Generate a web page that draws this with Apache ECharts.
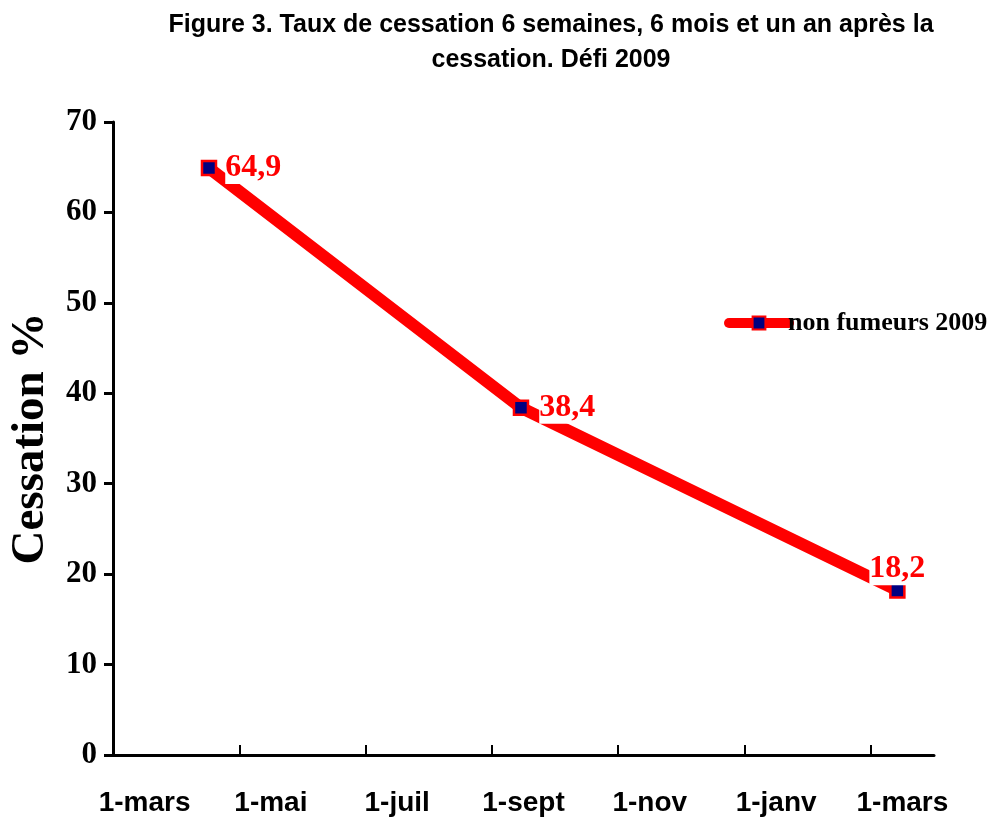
<!DOCTYPE html>
<html>
<head>
<meta charset="utf-8">
<script src="https://cdn.jsdelivr.net/npm/echarts@6/dist/echarts.min.js"></script>
<style>html,body{margin:0;padding:0;background:#fff;}#c{width:990px;height:822px;}</style>
</head>
<body>
<div id="c"></div>
<script>
// Data
const seriesName = 'non fumeurs 2009';
const monthsAfterStart = [1.52, 6.46, 12.42];   // position along time axis (months after 1 March 2009)
const cessationValues = [64.9, 38.4, 18.2];
const valueLabels = ['64,9', '38,4', '18,2'];
const tickLabels = ['1-mars', '1-mai', '1-juil', '1-sept', '1-nov', '1-janv', '1-mars'];
const yTicks = [0, 10, 20, 30, 40, 50, 60, 70];
const titleText = 'Figure 3. Taux de cessation 6 semaines, 6 mois et un an après la\ncessation. Défi 2009';
const yAxisName = 'Cessation %';

const labelPos = [
  {position: 'right', distance: 8},
  {position: 'right', distance: 10},
  {position: 'top', distance: -3}
];

const chart = echarts.init(document.getElementById('c'), null, {renderer: 'canvas'});
const data = monthsAfterStart.map((m, i) => ({
  value: [m, cessationValues[i]],
  label: Object.assign({formatter: valueLabels[i]}, labelPos[i])
}));

chart.setOption({
  animation: false,
  backgroundColor: '#fff',
  title: {
    text: titleText,
    left: 546, top: 3, textAlign: 'center',
    textStyle: {fontFamily: 'Liberation Sans', fontWeight: 'bold', fontSize: 25, lineHeight: 35, color: '#000'}
  },
  legend: {
    left: 719, top: 305,
    itemWidth: 60, itemHeight: 16, itemGap: 2,
    lineStyle: {width: 10, cap: 'round'},
    textStyle: {fontFamily: 'Liberation Serif', fontWeight: 'bold', fontSize: 26, color: '#000', padding: [0,0,0,-6]},
    data: [seriesName]
  },
  grid: {left: 113, right: 56, top: 122, bottom: 67, containLabel: false, outerBoundsMode: 'none'},
  xAxis: {
    type: 'value', min: 0, max: 13, interval: 2,
    splitLine: {show: false},
    axisLine: {lineStyle: {color: '#000', width: 3}},
    axisTick: {inside: true, length: 10, lineStyle: {color: '#000', width: 2}, customValues: [2, 4, 6, 8, 10, 12]},
    axisLabel: {
      customValues: tickLabels.map((_, i) => 0.5 + 2 * i),
      formatter: v => tickLabels[Math.round((v - 0.5) / 2)] || '',
      margin: 34,
      fontFamily: 'Liberation Sans', fontWeight: 'bold', fontSize: 28, color: '#000'
    }
  },
  yAxis: {
    type: 'value', min: yTicks[0], max: yTicks[yTicks.length - 1], interval: 10,
    name: yAxisName, nameLocation: 'middle', nameRotate: 90, nameGap: 59,
    nameTextStyle: {fontFamily: 'Liberation Serif', fontWeight: 'bold', fontSize: 47, color: '#000'},
    splitLine: {show: false},
    axisLine: {show: true, lineStyle: {color: '#000', width: 3}},
    axisTick: {show: true, length: 9, lineStyle: {color: '#000', width: 3}},
    axisLabel: {margin: 16, fontFamily: 'Liberation Serif', fontWeight: 'bold', fontSize: 31, color: '#000'}
  },
  series: [{
    name: seriesName,
    type: 'line',
    data: data,
    symbol: 'rect', symbolSize: 14,
    itemStyle: {color: '#000080', borderColor: '#ff0000', borderWidth: 2.5},
    lineStyle: {color: '#ff0000', width: 12},
    label: {
      show: true,
      fontFamily: 'Liberation Serif', fontWeight: 'bold', fontSize: 32, color: '#ff0000',
      backgroundColor: '#fff', padding: [0, 0, 0, 0]
    }
  }]
});
</script>
</body>
</html>
